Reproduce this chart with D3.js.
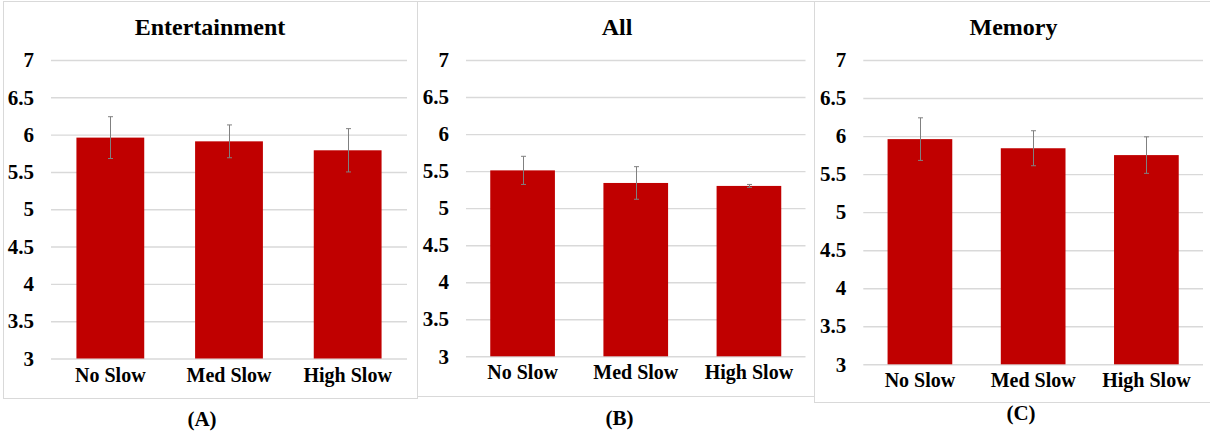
<!DOCTYPE html>
<html>
<head>
<meta charset="utf-8">
<script src="https://cdn.jsdelivr.net/npm/d3@7"></script>
<style>
  html, body { margin: 0; padding: 0; background: #fff; }
  svg { display: block; }
</style>
</head>
<body>
<svg id="chart" width="1210" height="439"></svg>
<script>
// Shared categories and y-axis ticks
const categories = ["No Slow", "Med Slow", "High Slow"];
const yTicks = [3, 3.5, 4, 4.5, 5, 5.5, 6, 6.5, 7];
const yTickLabels = ["3", "3.5", "4", "4.5", "5", "5.5", "6", "6.5", "7"];

// Mean ratings and error-bar half-widths per condition
const entertainmentMeans = [5.96, 5.91, 5.79];
const entertainmentErrors = [0.28, 0.22, 0.29];
const allMeans = [5.51, 5.34, 5.30];
const allErrors = [0.19, 0.22, 0.02];
const memoryMeans = [5.96, 5.84, 5.75];
const memoryErrors = [0.28, 0.23, 0.24];

const titles = ["Entertainment", "All", "Memory"];
const panelLetters = ["(A)", "(B)", "(C)"];

const serif = "'Liberation Serif', 'Tinos', 'Times New Roman', 'DejaVu Serif', serif";

// Layout of each panel: frame box, plot extents, label positions
const panels = [
  { title: titles[0], letter: panelLetters[0], means: entertainmentMeans, errors: entertainmentErrors,
    frame: [3.5, 1.5, 417.5, 398.5], x: [51, 407], y: [358.5, 60],
    titleX: 210, titleY: 34.5, letterX: 202, letterY: 426 },
  { title: titles[1], letter: panelLetters[1], means: allMeans, errors: allErrors,
    frame: [417.5, 1.5, 814.5, 396.5], x: [466, 805.5], y: [356.3, 60],
    titleX: 617, titleY: 34.5, letterX: 619.5, letterY: 425 },
  { title: titles[2], letter: panelLetters[2], means: memoryMeans, errors: memoryErrors,
    frame: [814.5, 1.5, 1215, 402.5], x: [863.3, 1203], y: [364.3, 60],
    titleX: 1013.5, titleY: 35, letterX: 1021, letterY: 420 }
];

const svg = d3.select("#chart");
const barColor = "#c00000";
const gridColor = "#d9d9d9";
const errColor = "#808080";

function styleText(sel, size) {
  sel.style("font-family", serif)
    .style("font-weight", "bold")
    .style("font-size", size + "px")
    .attr("fill", "#000");
}

panels.forEach(p => {
  const g = svg.append("g");

  // panel frame
  g.append("rect")
    .attr("x", p.frame[0]).attr("y", p.frame[1])
    .attr("width", p.frame[2] - p.frame[0]).attr("height", p.frame[3] - p.frame[1])
    .attr("fill", "none").attr("stroke", gridColor).attr("stroke-width", 1);

  const x = d3.scaleBand().domain(categories).range(p.x)
    .paddingInner(0.75 / 1.75).paddingOuter(0.375 / 1.75);
  const y = d3.scaleLinear().domain([3, 7]).range(p.y);

  // y axis: labels plus horizontal gridlines
  const yAxis = d3.axisLeft(y)
    .tickValues(yTicks)
    .tickFormat((d, i) => yTickLabels[i])
    .tickSize(-(p.x[1] - p.x[0]))
    .tickPadding(17);
  const ya = g.append("g").attr("transform", `translate(${p.x[0]},0)`).call(yAxis);
  ya.select(".domain").remove();
  ya.selectAll(".tick line").attr("stroke", gridColor).attr("stroke-width", 1.4);
  styleText(ya.selectAll(".tick text"), 21);

  // bars
  g.selectAll("rect.bar").data(p.means).join("rect")
    .attr("class", "bar")
    .attr("x", (d, i) => x(categories[i]))
    .attr("width", x.bandwidth())
    .attr("y", d => y(d))
    .attr("height", d => y(3) - y(d))
    .attr("fill", barColor);

  // error bars
  const eg = g.append("g").attr("stroke", errColor).attr("stroke-width", 1);
  p.means.forEach((m, i) => {
    const cx = Math.round(x(categories[i]) + x.bandwidth() / 2) + 0.5;
    const hi = y(m + p.errors[i]), lo = y(m - p.errors[i]);
    eg.append("line").attr("x1", cx).attr("x2", cx).attr("y1", hi).attr("y2", lo);
    eg.append("line").attr("x1", cx - 2.5).attr("x2", cx + 2.5).attr("y1", hi).attr("y2", hi);
    eg.append("line").attr("x1", cx - 2.5).attr("x2", cx + 2.5).attr("y1", lo).attr("y2", lo);
  });

  // category labels
  const xAxis = d3.axisBottom(x).tickSize(0).tickPadding(9);
  const xa = g.append("g").attr("transform", `translate(0,${y(3)})`).call(xAxis);
  xa.select(".domain").remove();
  styleText(xa.selectAll(".tick text"), 20);

  // title
  const t = g.append("text")
    .attr("x", p.titleX).attr("y", p.titleY)
    .attr("text-anchor", "middle")
    .text(p.title);
  styleText(t, 24);

  // panel letter
  const l = g.append("text")
    .attr("x", p.letterX).attr("y", p.letterY)
    .attr("text-anchor", "middle")
    .text(p.letter);
  styleText(l, 21);
});
</script>
</body>
</html>
